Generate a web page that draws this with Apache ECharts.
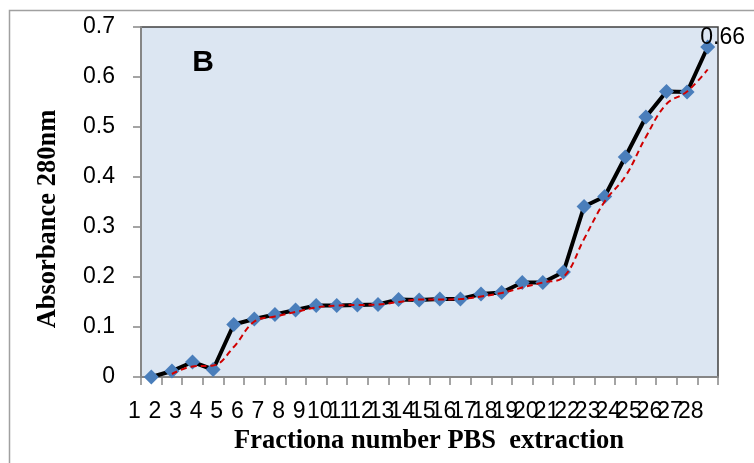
<!DOCTYPE html>
<html>
<head>
<meta charset="utf-8">
<script src="https://cdn.jsdelivr.net/npm/echarts@6/dist/echarts.min.js"></script>
<style>
  html, body { margin: 0; padding: 0; background: #fff; }
  #chart { width: 754px; height: 463px; }
</style>
</head>
<body>
<div id="chart"></div>
<script>
// fraction numbers on the x axis
var fractions = ["1", "2", "3", "4", "5", "6", "7", "8", "9", "10", "11", "12", "13", "14",
  "15", "16", "17", "18", "19", "20", "21", "22", "23", "24", "25", "26", "27", "28"];
// absorbance at 280nm
var absorbance = [0, 0.012, 0.03, 0.015, 0.105, 0.116, 0.125, 0.134, 0.143, 0.143, 0.144,
  0.145, 0.155, 0.154, 0.156, 0.156, 0.166, 0.169, 0.189, 0.189, 0.21, 0.341, 0.361,
  0.44, 0.52, 0.571, 0.57, 0.66];
// red dashed trendline (2 period moving average)
var trend = [null, 0.006, 0.021, 0.023, 0.06, 0.111, 0.121, 0.13, 0.139, 0.143, 0.144,
  0.145, 0.15, 0.155, 0.155, 0.156, 0.161, 0.168, 0.179, 0.189, 0.2, 0.276, 0.351,
  0.401, 0.48, 0.546, 0.571, 0.615];
// y tick values
var yTicks = [0, 0.1, 0.2, 0.3, 0.4, 0.5, 0.6, 0.7];

var chart = echarts.init(document.getElementById("chart"));

var lastIdx = absorbance.length - 1;
var lineData = absorbance.map(function (v, i) {
  if (i === lastIdx) {
    return {
      value: v,
      label: {
        show: true,
        position: [0, -2],
        align: "left",
        verticalAlign: "middle",
        color: "#000",
        fontSize: 23,
        fontFamily: "Liberation Sans",
      },
    };
  }
  return v;
});

var option = {
  animation: false,
  backgroundColor: "#fff",
  grid: {
    left: 141,
    right: 36,
    top: 27,
    bottom: 86,
    show: true,
    backgroundColor: "#dce6f2",
    borderColor: "#404040",
    borderWidth: 1.5,
  },
  xAxis: {
    type: "category",
    data: fractions,
    boundaryGap: true,
    axisLine: { lineStyle: { color: "#868686", width: 2 } },
    axisTick: { show: true, length: 8, interval: 0, lineStyle: { color: "#868686", width: 1.5 } },
    axisLabel: {
      interval: 0,
      margin: 23,
      color: "#000",
      fontSize: 23,
      fontFamily: "Liberation Sans",
      padding: [0, 34, 0, 0],
    },
    splitLine: { show: false },
  },
  yAxis: {
    type: "value",
    min: yTicks[0],
    max: yTicks[yTicks.length - 1],
    interval: 0.1,
    axisLine: { show: true, lineStyle: { color: "#868686", width: 2 } },
    axisTick: { show: true, length: 8, lineStyle: { color: "#868686", width: 1.5 } },
    axisLabel: {
      margin: 26,
      color: "#000",
      fontSize: 23,
      fontFamily: "Liberation Sans",
      formatter: function (v) { return String(Math.round(v * 10) / 10); },
    },
    splitLine: { show: false },
  },
  graphic: [
    {
      type: "rect",
      silent: true,
      shape: { x: 9.5, y: 10.5, width: 800, height: 500 },
      style: { fill: "none", stroke: "#a0a0a0", lineWidth: 1.5 },
    },
    {
      type: "text",
      x: 203,
      y: 63,
      style: {
        text: "B",
        fill: "#000",
        font: "bold 30px 'Liberation Sans'",
        textAlign: "center",
        textVerticalAlign: "middle",
      },
    },
    {
      type: "text",
      x: 48,
      y: 219,
      rotation: Math.PI / 2,
      style: {
        text: "Absorbance 280nm",
        fill: "#000",
        font: "bold 26.5px 'Liberation Serif'",
        textAlign: "center",
        textVerticalAlign: "middle",
      },
    },
    {
      type: "text",
      x: 429,
      y: 441,
      style: {
        text: "Fractiona number PBS  extraction",
        fill: "#000",
        font: "bold 26.5px 'Liberation Serif'",
        textAlign: "center",
        textVerticalAlign: "middle",
      },
    },
  ],
  series: [
    {
      name: "Absorbance",
      type: "line",
      data: lineData,
      symbol: "diamond",
      symbolSize: 15,
      showAllSymbol: true,
      lineStyle: { color: "#000", width: 4 },
      itemStyle: { color: "#4a7ebb" },
      z: 2,
    },
    {
      name: "Trend",
      type: "line",
      data: trend,
      symbol: "none",
      smooth: 0.4,
      connectNulls: false,
      lineStyle: { color: "#d00000", width: 2, type: [6, 4] },
      z: 3,
    },
  ],
};

chart.setOption(option);
</script>
</body>
</html>
